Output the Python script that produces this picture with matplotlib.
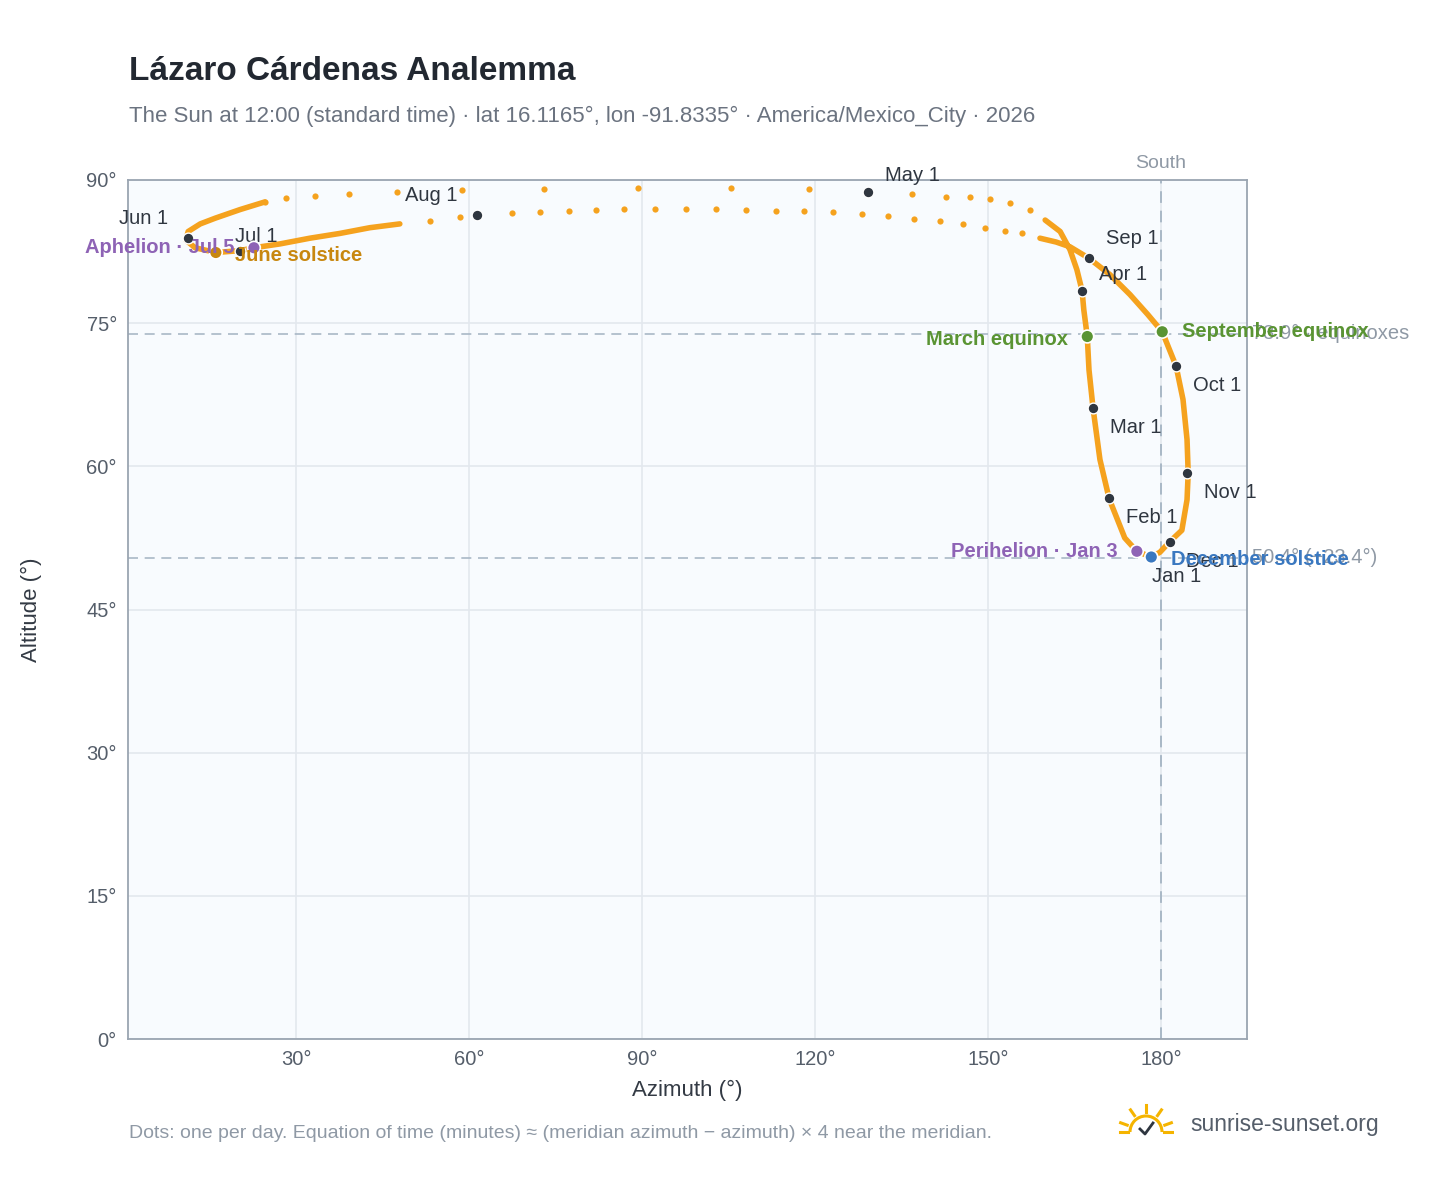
import matplotlib
matplotlib.use("Agg")
import matplotlib.pyplot as plt
from matplotlib.patches import Arc
import numpy as np

plt.rcParams['font.family'] = ['Liberation Sans', 'DejaVu Sans']

# Dense part of the track (near the meridian), az/alt in degrees
dense_az = [159.0,161.8,164.2,167.5,171.1,174.6,177.7,180.2,182.6,183.8,184.5,184.7,184.5,183.6,181.5,179.8,178.3,175.8,173.7,171.0,169.4,168.2,167.5,167.2,166.6,166.3,165.4,164.2,162.5,159.9]
dense_alt = [83.9,83.5,83.0,81.8,80.1,78.0,75.9,74.1,70.5,67.0,62.8,59.3,56.5,53.3,52.1,51.0,50.5,51.1,52.5,56.6,60.7,66.1,70.1,73.6,76.4,78.4,80.6,82.7,84.6,85.8]
# Dense part near the northern loop (June/July)
loop_az = [24.6,20.3,16.0,13.4,11.3,10.9,12.5,16.1,20.3,22.7,27.2,32.4,37.6,42.8,48.0]
loop_alt = [87.7,86.9,86.0,85.4,84.6,83.7,82.9,82.4,82.6,82.9,83.3,83.9,84.4,85.0,85.4]
# Sparse daily dots, upper row (April -> June)
up_az = [157.3,153.8,150.3,146.9,142.7,136.8,129.2,119.0,105.4,89.3,73.0,58.8,47.5,39.2,33.3,28.3,24.6]
up_alt = [86.9,87.6,88.0,88.2,88.2,88.5,88.7,89.1,89.2,89.2,89.1,89.0,88.7,88.5,88.3,88.1,87.7]
# Sparse daily dots, lower row (July -> September)
low_az = [53.2,58.4,61.4,67.5,72.3,77.3,82.0,86.9,92.2,97.6,102.8,108.0,113.2,118.1,123.1,128.1,132.7,137.2,141.7,145.7,149.5,152.9,155.9]
low_alt = [85.7,86.1,86.3,86.5,86.6,86.8,86.9,87.0,87.0,87.0,87.0,86.9,86.8,86.8,86.6,86.4,86.2,85.9,85.7,85.4,85.0,84.7,84.4]

months = ["Jan 1","Feb 1","Mar 1","Apr 1","May 1","Jun 1","Jul 1","Aug 1","Sep 1","Oct 1","Nov 1","Dec 1"]
month_az = [178.4,171.0,168.2,166.3,129.2,11.3,20.3,61.4,167.5,182.6,184.5,181.5]
month_alt = [50.5,56.7,66.1,78.4,88.7,83.9,82.6,86.3,81.8,70.5,59.3,52.1]
month_off = [(0,-14),(12,-14),(12,-14),(12,12),(12,12),(-50,14),(-4,10),(-52,14),(12,14),(12,-14),(12,-14),(12,-14)]

events = ["March equinox","September equinox","June solstice","December solstice","Perihelion · Jan 3","Aphelion · Jul 5"]
event_az = [167.2,180.2,16.1,178.3,175.8,22.7]
event_alt = [73.6,74.1,82.4,50.5,51.1,82.9]
event_col = ["#5a9433","#5a9433","#c8870f","#3a78c0","#8e63b5","#8e63b5"]
event_ha = ["right","left","left","left","right","right"]
event_off = [(-14,-2),(14,0),(14,-2),(14,-2),(-14,0),(-14,0)]

equinox_alt = 73.9
dec_alt = 50.4

fig = plt.figure(figsize=(14.48, 11.88), dpi=100)
ax = fig.add_axes([0.0884, 0.1254, 0.7728, 0.7231])
ax.set_facecolor("#f8fbfe")
ax.set_xlim(0.87, 194.9)
ax.set_ylim(0, 90)
ax.set_xticks([30,60,90,120,150,180])
ax.set_xticklabels([f"{t}°" for t in [30,60,90,120,150,180]])
ax.set_yticks([0,15,30,45,60,75,90])
ax.set_yticklabels([f"{t}°" for t in [0,15,30,45,60,75,90]])
ax.grid(color="#e3e8ee", lw=1.2)
ax.set_axisbelow(True)
for s in ax.spines.values():
    s.set_color("#9aa5b1"); s.set_linewidth(1.3)
ax.tick_params(length=0, labelsize=14.5, colors="#555e6a", pad=8)

ax.axhline(equinox_alt, color="#a9b8c6", ls=(0,(6,4)), lw=1.2, zorder=1)
ax.axhline(dec_alt, color="#a9b8c6", ls=(0,(6,4)), lw=1.2, zorder=1)
ax.axvline(180, color="#a9b8c6", ls=(0,(6,4)), lw=1.4, zorder=1)
ax.text(180, 90.8, "South", ha="center", va="bottom", color="#8f99a5", fontsize=14)
ax.text(195.8, equinox_alt, "73.9° · equinoxes", ha="left", va="center", color="#8f99a5", fontsize=14.5, clip_on=False)
ax.text(195.8, dec_alt, "50.4° (−23.4°)", ha="left", va="center", color="#8f99a5", fontsize=14.5, clip_on=False)

orange = "#f5a21e"
ax.plot(dense_az, dense_alt, color=orange, lw=4, solid_capstyle="round", solid_joinstyle="round", zorder=3)
ax.plot(loop_az, loop_alt, color=orange, lw=4, solid_capstyle="round", solid_joinstyle="round", zorder=3)
ax.scatter(up_az, up_alt, s=20, color=orange, zorder=3, lw=0)
ax.scatter(low_az, low_alt, s=20, color=orange, zorder=3, lw=0)

ax.scatter(month_az, month_alt, s=60, color="#2f3640", edgecolor="white", lw=1, zorder=5)
for m, x, y, o in zip(months, month_az, month_alt, month_off):
    ax.annotate(m, (x, y), xytext=o, textcoords="offset points", fontsize=14.5, color="#2f3640", va="center", ha="left", zorder=6)

ax.scatter(event_az, event_alt, s=85, color=event_col, edgecolor="white", lw=1.2, zorder=6)
for e, x, y, c, ha, o in zip(events, event_az, event_alt, event_col, event_ha, event_off):
    ax.annotate(e, (x, y), xytext=o, textcoords="offset points", fontsize=14.5, color=c, fontweight="bold", ha=ha, va="center", zorder=7, annotation_clip=False)

ax.set_xlabel("Azimuth (°)", fontsize=16, color="#333a44", labelpad=8)
ax.set_ylabel("Altitude (°)", fontsize=16, color="#333a44", labelpad=32)

fig.text(129/1448, 1-72/1188, "Lázaro Cárdenas Analemma", fontsize=24, fontweight="bold", color="#222831", va="center")
fig.text(129/1448, 1-116/1188, "The Sun at 12:00 (standard time) · lat 16.1165°, lon -91.8335° · America/Mexico_City · 2026", fontsize=16, color="#6b7380", va="center")
fig.text(129/1448, 1-1134/1188, "Dots: one per day. Equation of time (minutes) ≈ (meridian azimuth − azimuth) × 4 near the meridian.", fontsize=14, color="#8f99a5", va="center")
fig.text(1190/1448, 1-1125/1188, "sunrise-sunset.org", fontsize=16.5, color="#555e6a", va="center")

# sun logo
la = fig.add_axes([1118/1448, 1-1140/1188, 56/1448, 40/1188])
la.set_xlim(-1.4, 1.4); la.set_ylim(-0.4, 1.6); la.axis("off")
la.add_patch(Arc((0, 0), 1.6, 1.6, theta1=0, theta2=180, color="#f5b400", lw=2.2))
for a in np.radians([20, 55, 90, 125, 160]):
    la.plot([1.0*np.cos(a), 1.35*np.cos(a)], [1.0*np.sin(a), 1.35*np.sin(a)], color="#f5b400", lw=2.2)
la.plot([-1.3, -0.9], [0, 0], color="#f5b400", lw=2.2)
la.plot([0.9, 1.3], [0, 0], color="#f5b400", lw=2.2)
la.plot([-0.3, -0.05, 0.35], [0.15, -0.1, 0.45], color="#2f3640", lw=2)

fig.savefig("out.png", dpi=100)
